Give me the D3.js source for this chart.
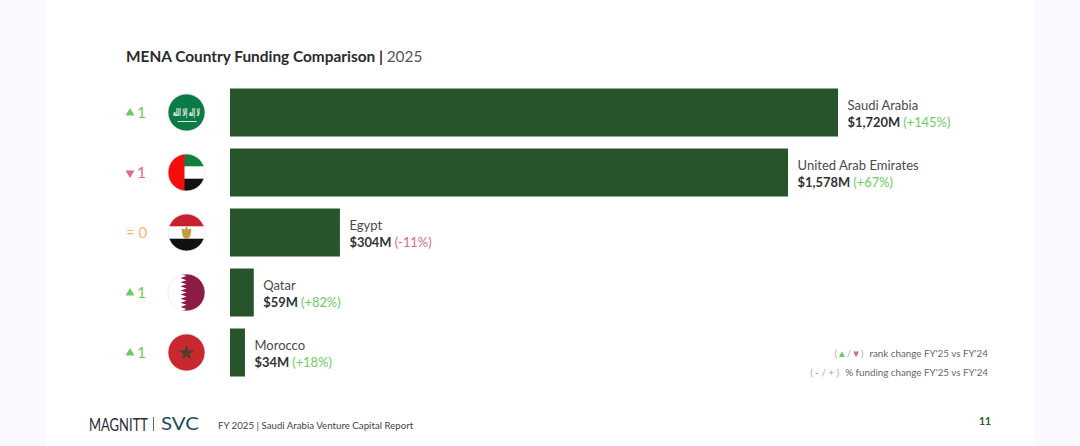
<!DOCTYPE html>
<html>
<head>
<meta charset="utf-8">
<script src="https://cdn.jsdelivr.net/npm/d3@7"></script>
<style>
  html, body { margin: 0; padding: 0; background: #f9f9ff; }
  svg { display: block; font-family: Lato, "Open Sans", sans-serif; }
</style>
</head>
<body>
<svg id="chart" width="1080" height="446"></svg>
<script>
const countries = ["Saudi Arabia", "United Arab Emirates", "Egypt", "Qatar", "Morocco"];
const funding = [1720, 1578, 304, 59, 34];
const growth = [145, 67, -11, 82, 18];
const rankChange = [1, -1, 0, 1, 1];
const flagNames = ["sa", "ae", "eg", "qa", "ma"];

const GREEN = "#27542a", UP = "#6ccb5e", DOWN = "#dd6a86", SAME = "#f0b878";

const svg = d3.select("#chart");

// white page
svg.append("rect").attr("x", 46).attr("y", 0).attr("width", 988).attr("height", 446).attr("fill", "#fff");

svg.append("text").attr("x", 126).attr("y", 61.5)
    .style("font-size", "15.4px")
    .call(t => {
        t.append("tspan").style("font-weight", 700).attr("fill", "#2b2b2b").text("MENA Country Funding Comparison | ");
        t.append("tspan").attr("fill", "#555").text("2025");
    });

const barLeft = 230;
const x = d3.scaleLinear().domain([0, d3.max(funding)]).range([233, 838]);
const y = d3.scaleBand().domain(countries).range([88.5, 376.5]).paddingInner(0.2);

const rows = svg.selectAll(".row").data(countries).enter().append("g")
    .attr("class", "row")
    .attr("transform", d => `translate(0,${y(d) + y.bandwidth() / 2})`);

rows.append("rect")
    .attr("x", barLeft)
    .attr("y", -y.bandwidth() / 2)
    .attr("width", (d, i) => x(funding[i]) - barLeft)
    .attr("height", y.bandwidth())
    .attr("fill", GREEN);

// labels to the right of each bar
rows.append("text")
    .attr("x", (d, i) => x(funding[i]) + 9.5)
    .attr("y", -3)
    .style("font-size", "13px")
    .attr("fill", "#4a4a4a")
    .text(d => d);

const valueLabels = rows.append("text")
    .attr("x", (d, i) => x(funding[i]) + 9.5)
    .attr("y", 14)
    .style("font-size", "12.9px");
valueLabels.append("tspan")
    .style("font-weight", 700)
    .attr("fill", "#333")
    .text((d, i) => `$${d3.format(",")(funding[i])}M `);
valueLabels.append("tspan")
    .attr("fill", (d, i) => growth[i] < 0 ? DOWN : UP)
    .text((d, i) => `(${growth[i] < 0 ? "-" : "+"}${Math.abs(growth[i])}%)`);

// rank change
const rankColor = v => v > 0 ? UP : v < 0 ? DOWN : SAME;
const triangle = d3.symbol().type(d3.symbolTriangle).size(34);
rows.each(function(d, i) {
    const g = d3.select(this), v = rankChange[i];
    if (v === 0) {
        g.append("text").attr("x", 126).attr("y", 5.5).style("font-size", "15px")
            .attr("fill", SAME).text("= 0");
        return;
    }
    g.append("path").attr("d", triangle)
        .attr("transform", `translate(130,0.5) rotate(${v > 0 ? 0 : 180})`)
        .attr("fill", rankColor(v));
    g.append("text").attr("x", 137).attr("y", 5.5).style("font-size", "15.5px")
        .attr("fill", rankColor(v)).text(Math.abs(v));
});

// flags, 37px circles
const R = 18.5, FLAG_X = 186.5;
const defs = svg.append("defs");
defs.append("clipPath").attr("id", "flagClip").append("circle").attr("r", R);

const flagDraw = {
    sa(g) {
        g.append("rect").attr("x", -R).attr("y", -R).attr("width", 2 * R).attr("height", 2 * R).attr("fill", "#0c7a45");
        g.append("text").attr("text-anchor", "middle").attr("y", 3)
            .style("font-family", "'DejaVu Sans'").style("font-size", "11px").style("font-weight", 700)
            .attr("textLength", 27).attr("lengthAdjust", "spacingAndGlyphs")
            .attr("fill", "#e6f2ea").text("لا إله إلا الله");
        g.append("line").attr("x1", -9).attr("x2", 10).attr("y1", 9).attr("y2", 9)
            .attr("stroke", "#dcefe3").attr("stroke-width", 1);
    },
    ae(g) {
        g.append("rect").attr("x", -R).attr("y", -R).attr("width", 2 * R).attr("height", 2 * R).attr("fill", "#fff");
        g.append("rect").attr("x", -R).attr("y", -R).attr("width", 2 * R).attr("height", 12.3).attr("fill", "#10803f");
        g.append("rect").attr("x", -R).attr("y", 6.2).attr("width", 2 * R).attr("height", 12.3).attr("fill", "#111");
        g.append("rect").attr("x", -R).attr("y", -R).attr("width", 16.5).attr("height", 2 * R).attr("fill", "#f40d0d");
    },
    eg(g) {
        g.append("rect").attr("x", -R).attr("y", -R).attr("width", 2 * R).attr("height", 2 * R).attr("fill", "#fff");
        g.append("rect").attr("x", -R).attr("y", -R).attr("width", 2 * R).attr("height", 12.3).attr("fill", "#c8202f");
        g.append("rect").attr("x", -R).attr("y", 6.2).attr("width", 2 * R).attr("height", 12.3).attr("fill", "#111");
        g.append("path").attr("d", "M-5 -4 L-1.5 -3 L0 -7 L1.5 -3 L5 -4 L4 3 L2 6 L-2 6 L-4 3 Z").attr("fill", "#c49a45");
    },
    qa(g) {
        g.append("rect").attr("x", -R).attr("y", -R).attr("width", 2 * R).attr("height", 2 * R).attr("fill", "#fff");
        const teeth = d3.range(9).map(k => {
            const top = -R + k * (2 * R / 9), h = 2 * R / 9;
            return `L-6 ${top} L0 ${top + h / 2}`;
        }).join(" ");
        g.append("path").attr("d", `M${R} ${-R} ${teeth} L-6 ${R} L${R} ${R} Z`).attr("fill", "#8a1c46");
    },
    ma(g) {
        g.append("rect").attr("x", -R).attr("y", -R).attr("width", 2 * R).attr("height", 2 * R).attr("fill", "#c8282e");
        g.append("path").attr("d", d3.symbol().type(d3.symbolStar).size(75))
            .attr("transform", "translate(0,0.5)")
            .attr("fill", "#4f3f2c");
    }
};

rows.each(function(d, i) {
    const g = d3.select(this).append("g")
        .attr("transform", `translate(${FLAG_X},0)`);
    const inner = g.append("g").attr("clip-path", "url(#flagClip)");
    flagDraw[flagNames[i]](inner);
    g.append("circle").attr("r", R).attr("fill", "none").attr("stroke", "#e6e6e6").attr("stroke-width", 0.7);
});

// legend
const legend = svg.append("g").style("font-size", "9.8px").attr("fill", "#666").attr("text-anchor", "end");
const leg1 = legend.append("text").attr("x", 988).attr("y", 357);
leg1.append("tspan").attr("fill", "#aaa").text("(");
leg1.append("tspan").attr("fill", UP).text("▲");
leg1.append("tspan").attr("fill", "#aaa").text("/");
leg1.append("tspan").attr("fill", DOWN).text("▼");
leg1.append("tspan").attr("fill", "#aaa").text(")");
leg1.append("tspan").attr("dx", 6).text("rank change FY'25 vs FY'24");
const leg2 = legend.append("text").attr("x", 988).attr("y", 376);
leg2.append("tspan").attr("fill", "#aaa").text("( ");
leg2.append("tspan").attr("fill", DOWN).text("-");
leg2.append("tspan").attr("fill", "#aaa").text(" / ");
leg2.append("tspan").attr("fill", UP).text("+");
leg2.append("tspan").attr("fill", "#aaa").text(" )");
leg2.append("tspan").attr("dx", 6).text("% funding change FY'25 vs FY'24");

// footer
svg.append("text").attr("transform", "translate(89,430.5) scale(1,1.3)")
    .style("font-size", "13.5px").style("font-weight", 400)
    .attr("fill", "#2a2a3a").attr("textLength", 59).attr("lengthAdjust", "spacingAndGlyphs").text("MAGNITT");
svg.append("rect").attr("x", 153).attr("y", 417).attr("width", 1).attr("height", 14).attr("fill", "#667");
svg.append("text").attr("x", 161).attr("y", 430).style("font-size", "17px")
    .attr("fill", "#1f4a5a").attr("textLength", 38).attr("lengthAdjust", "spacingAndGlyphs").text("SVC");
svg.append("text").attr("x", 218).attr("y", 429).style("font-size", "9.7px").attr("fill", "#444")
    .text("FY 2025 | Saudi Arabia Venture Capital Report");
svg.append("text").attr("x", 979).attr("y", 425).style("font-size", "10.5px").style("font-weight", 700)
    .attr("fill", "#2a5a2d").text("11");
</script>
</body>
</html>
